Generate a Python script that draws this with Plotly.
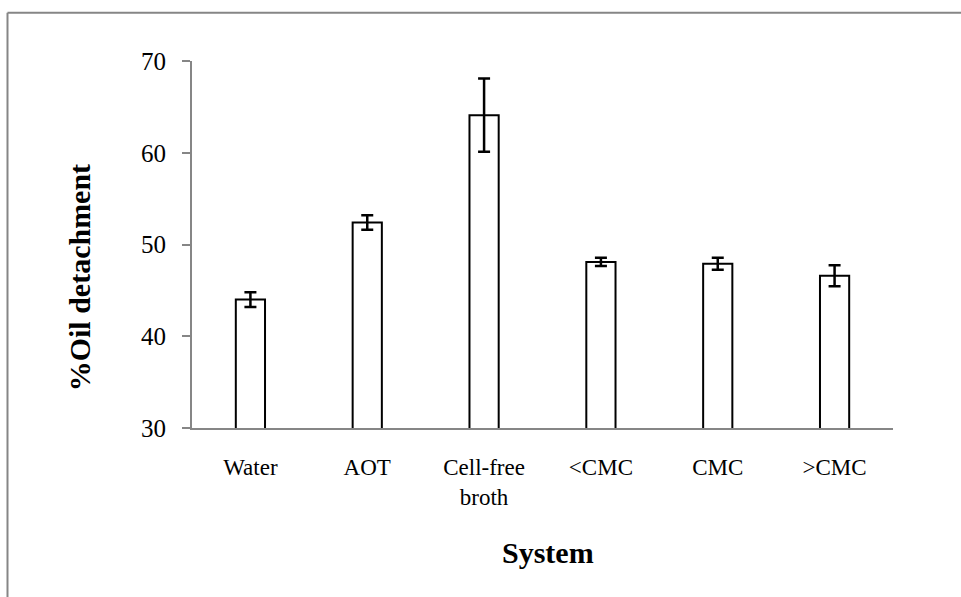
import plotly.graph_objects as go

# Oil detachment by washing system
systems = ["Water", "AOT", "Cell-free<br>broth", "<CMC", "CMC", ">CMC"]
detachment = [44.0, 52.4, 64.1, 48.1, 47.9, 46.6]
std_err = [0.8, 0.8, 4.0, 0.45, 0.65, 1.15]

y_ticks = [30, 40, 50, 60, 70]

AXIS_GRAY = "#868686"
FONT = "Liberation Serif, Times New Roman, serif"

fig = go.Figure(
    go.Bar(
        x=systems,
        y=detachment,
        width=0.25,
        marker=dict(color="white", line=dict(color="black", width=2)),
        error_y=dict(type="data", array=std_err, visible=True,
                     color="black", thickness=2.5, width=6),
    )
)

fig.update_layout(
    width=961,
    height=597,
    margin=dict(l=192, r=68, t=61, b=169),
    paper_bgcolor="white",
    plot_bgcolor="white",
    font=dict(family=FONT, size=24, color="black"),
    showlegend=False,
    shapes=[
        # outer chart frame (left and top edges)
        dict(type="line", xref="paper", yref="paper",
             x0=-0.2632, x1=-0.2632, y0=1.1313, y1=-0.5,
             line=dict(color=AXIS_GRAY, width=2)),
        dict(type="line", xref="paper", yref="paper",
             x0=-0.2632, x1=1.2, y0=1.1313, y1=1.1313,
             line=dict(color=AXIS_GRAY, width=2)),
    ],
    annotations=[
        # axis titles
        dict(text="<b>System</b>", xref="paper", yref="paper",
             x=0.508, y=-0.34, xanchor="center", yanchor="middle",
             showarrow=False, font=dict(family=FONT, size=30)),
        dict(text="<b>%Oil detachment</b>", xref="paper", yref="paper",
             x=-0.16, y=0.41, xanchor="center", yanchor="middle",
             textangle=-90, showarrow=False, font=dict(family=FONT, size=30)),
    ],
)

fig.update_xaxes(
    showline=True, linecolor=AXIS_GRAY, linewidth=2,
    showgrid=False, ticks="", ticklabelstandoff=17,
    tickfont=dict(family=FONT, size=23),
)

fig.update_yaxes(
    range=[30, 70], tickvals=y_ticks,
    showline=True, linecolor=AXIS_GRAY, linewidth=2,
    showgrid=False, zeroline=False,
    ticks="outside", ticklen=8, tickcolor=AXIS_GRAY, tickwidth=2,
    ticklabelstandoff=11,
    tickfont=dict(family=FONT, size=25),
)

fig.write_html("out.html")
